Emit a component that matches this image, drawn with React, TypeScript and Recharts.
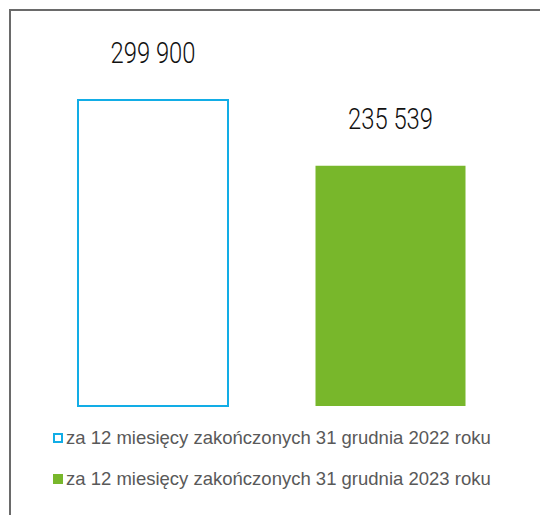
import { BarChart, Bar, XAxis, YAxis, Cell, LabelList } from 'recharts';

const periods = ['2022', '2023'];
const values = [299900, 235539];
const legendLabels = [
  'za 12 miesięcy zakończonych 31 grudnia 2022 roku',
  'za 12 miesięcy zakończonych 31 grudnia 2023 roku',
];

const BLUE = '#12ade6';
const GREEN = '#78b72b';

const data = periods.map((p, i) => ({ period: p, value: values[i] }));

const fmt = (v: number) => v.toLocaleString('en-US').replace(/,/g, ' ');

function ValueLabel(props: any) {
  const { x, y, width, value } = props;
  return (
    <text
      x={x + width / 2}
      y={y - 37}
      textAnchor="middle"
      fill="#111"
      fontSize={29}
      fontWeight={300}
      textLength={85}
      lengthAdjust="spacingAndGlyphs"
      fontFamily="Roboto, 'DejaVu Sans Condensed', sans-serif"
    >
      {fmt(value)}
    </text>
  );
}

export default function App() {
  return (
    <div style={{ position: 'fixed', left: 0, top: 0, width: 540, height: 515, overflow: 'hidden', background: '#fff' }}>
      <div
        style={{
          position: 'absolute',
          left: 9,
          top: 9,
          width: 700,
          height: 700,
          borderTop: '2px solid #6a6a6a',
          borderLeft: '2px solid #6a6a6a',
        }}
      />
      <div style={{ position: 'absolute', left: 0, top: 0 }}>
        <BarChart
          width={540}
          height={420}
          data={data}
          margin={{ top: 49, right: 31, bottom: 14, left: 34 }}
        >
          <XAxis dataKey="period" hide />
          <YAxis hide domain={[0, 350000]} />
          <Bar dataKey="value" barSize={150} isAnimationActive={false}>
            <Cell fill="#ffffff" stroke={BLUE} strokeWidth={2} />
            <Cell fill={GREEN} stroke="none" />
            <LabelList dataKey="value" content={<ValueLabel />} />
          </Bar>
        </BarChart>
      </div>
      {legendLabels.map((label, i) => (
        <div
          key={label}
          style={{
            position: 'absolute',
            left: 53,
            top: i === 0 ? 427 : 468,
            display: 'flex',
            alignItems: 'center',
            fontFamily: "'Liberation Sans', Arial, sans-serif",
            fontSize: 18.5,
            lineHeight: '22px',
            color: '#595959',
            whiteSpace: 'nowrap',
          }}
        >
          <span
            style={{
              display: 'inline-block',
              width: i === 0 ? 6 : 10,
              height: i === 0 ? 6 : 10,
              border: i === 0 ? `2px solid ${BLUE}` : 'none',
              background: i === 0 ? '#fff' : GREEN,
              marginRight: 3,
            }}
          />
          <span>{label}</span>
        </div>
      ))}
    </div>
  );
}
